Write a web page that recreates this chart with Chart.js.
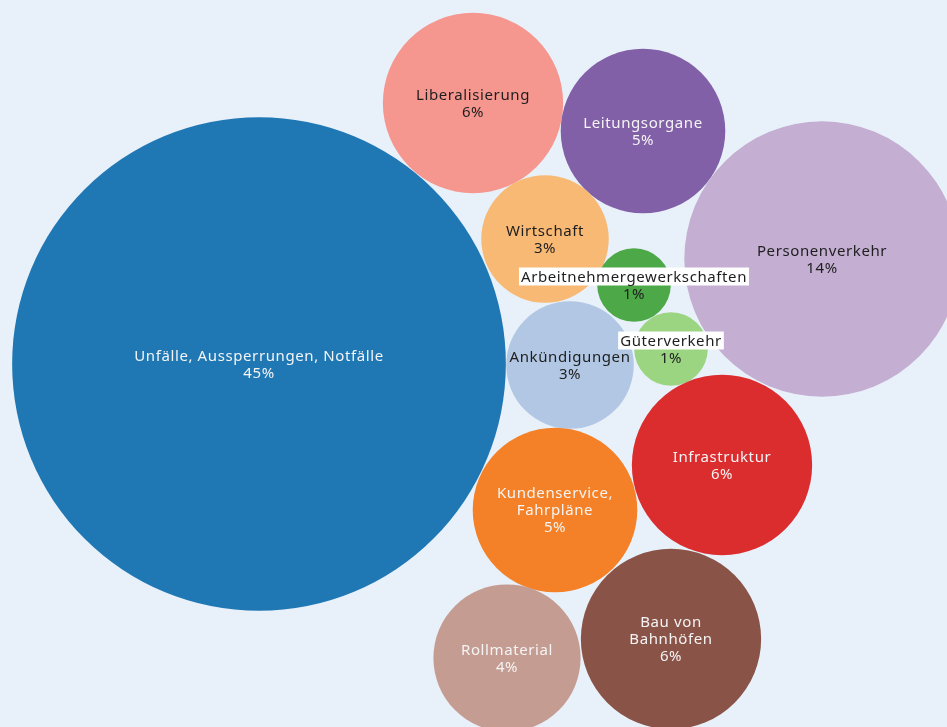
<!DOCTYPE html>
<html lang="de">
<head>
    <meta charset="UTF-8">
    <title>Themen Bubble Chart</title>
    <script src="https://cdn.jsdelivr.net/npm/chart.js"></script>
    <style>
        html, body { margin: 0; padding: 0; background: #e8f1fa; overflow: hidden; }
        .chart-wrapper { width: 947px; height: 727px; }
    </style>
</head>
<body>
    <div class="chart-wrapper">
        <canvas id="bubbleChart" width="947" height="727"></canvas>
    </div>

    <script>
        // Themen und Anteile (in %)
        const topics = [
            "Unfälle, Aussperrungen, Notfälle",
            "Liberalisierung",
            "Leitungsorgane",
            "Personenverkehr",
            "Wirtschaft",
            "Arbeitnehmergewerkschaften",
            "Güterverkehr",
            "Ankündigungen",
            "Infrastruktur",
            "Kundenservice,\nFahrpläne",
            "Bau von\nBahnhöfen",
            "Rollmaterial"
        ];
        const shares = [45, 6, 5, 14, 3, 1, 1, 3, 6, 5, 6, 4];

        // Lage der Kreise im Packing-Layout
        const packX = [259, 473, 643, 822, 545, 634, 671, 570, 722, 555, 671, 507];
        const packY = [364, 103, 131, 259, 239, 285, 349, 365, 465, 510, 639, 658];

        const colors = [
            "#1f77b4", "#f5968f", "#8260a8", "#c4aed2", "#f7b974", "#4da848",
            "#9bd582", "#b1c7e3", "#db2c2e", "#f48127", "#8a5347", "#c59c92"
        ];
        const darkText = [false, true, false, true, true, true, true, true, false, false, false, false];
        const boxedLabel = [false, false, false, false, false, true, true, false, false, false, false, false];

        const radiusPerSqrtShare = 36.8;

        const points = shares.map((s, i) => ({
            x: packX[i],
            y: packY[i],
            r: radiusPerSqrtShare * Math.sqrt(s)
        }));

        const bubbleLabels = {
            id: 'bubbleLabels',
            afterDatasetsDraw(chart) {
                const ctx = chart.ctx;
                const meta = chart.getDatasetMeta(0);
                const lineH = 17;
                ctx.save();
                ctx.font = '15px "Noto Sans", Lato, sans-serif';
                ctx.letterSpacing = '0.6px';
                ctx.textAlign = 'center';
                ctx.textBaseline = 'middle';
                meta.data.forEach((pt, i) => {
                    const lines = topics[i].split('\n').concat(shares[i] + '%');
                    const top = pt.y - (lines.length - 1) * lineH / 2;
                    lines.forEach((line, j) => {
                        const y = top + j * lineH;
                        if (boxedLabel[i] && j === 0) {
                            const w = ctx.measureText(line).width;
                            ctx.fillStyle = '#ffffff';
                            ctx.fillRect(pt.x - w / 2 - 2, y - 9, w + 4, 18);
                        }
                        ctx.fillStyle = darkText[i] ? '#1e1e1e' : '#f4f4f4';
                        ctx.fillText(line, pt.x, y + 1);
                    });
                });
                ctx.restore();
            }
        };

        new Chart(document.getElementById('bubbleChart'), {
            type: 'bubble',
            data: {
                datasets: [{
                    label: 'Themen',
                    data: points,
                    backgroundColor: colors,
                    borderWidth: 0,
                    hoverRadius: 0,
                    hoverBorderWidth: 0,
                    clip: false
                }]
            },
            options: {
                responsive: false,
                devicePixelRatio: 1,
                animation: false,
                events: [],
                layout: { padding: 0, autoPadding: false },
                plugins: {
                    legend: { display: false },
                    tooltip: { enabled: false }
                },
                scales: {
                    x: { type: 'linear', min: 0, max: 947, display: false },
                    y: { type: 'linear', min: 0, max: 727, reverse: true, display: false }
                }
            },
            plugins: [bubbleLabels]
        });
    </script>
</body>
</html>
